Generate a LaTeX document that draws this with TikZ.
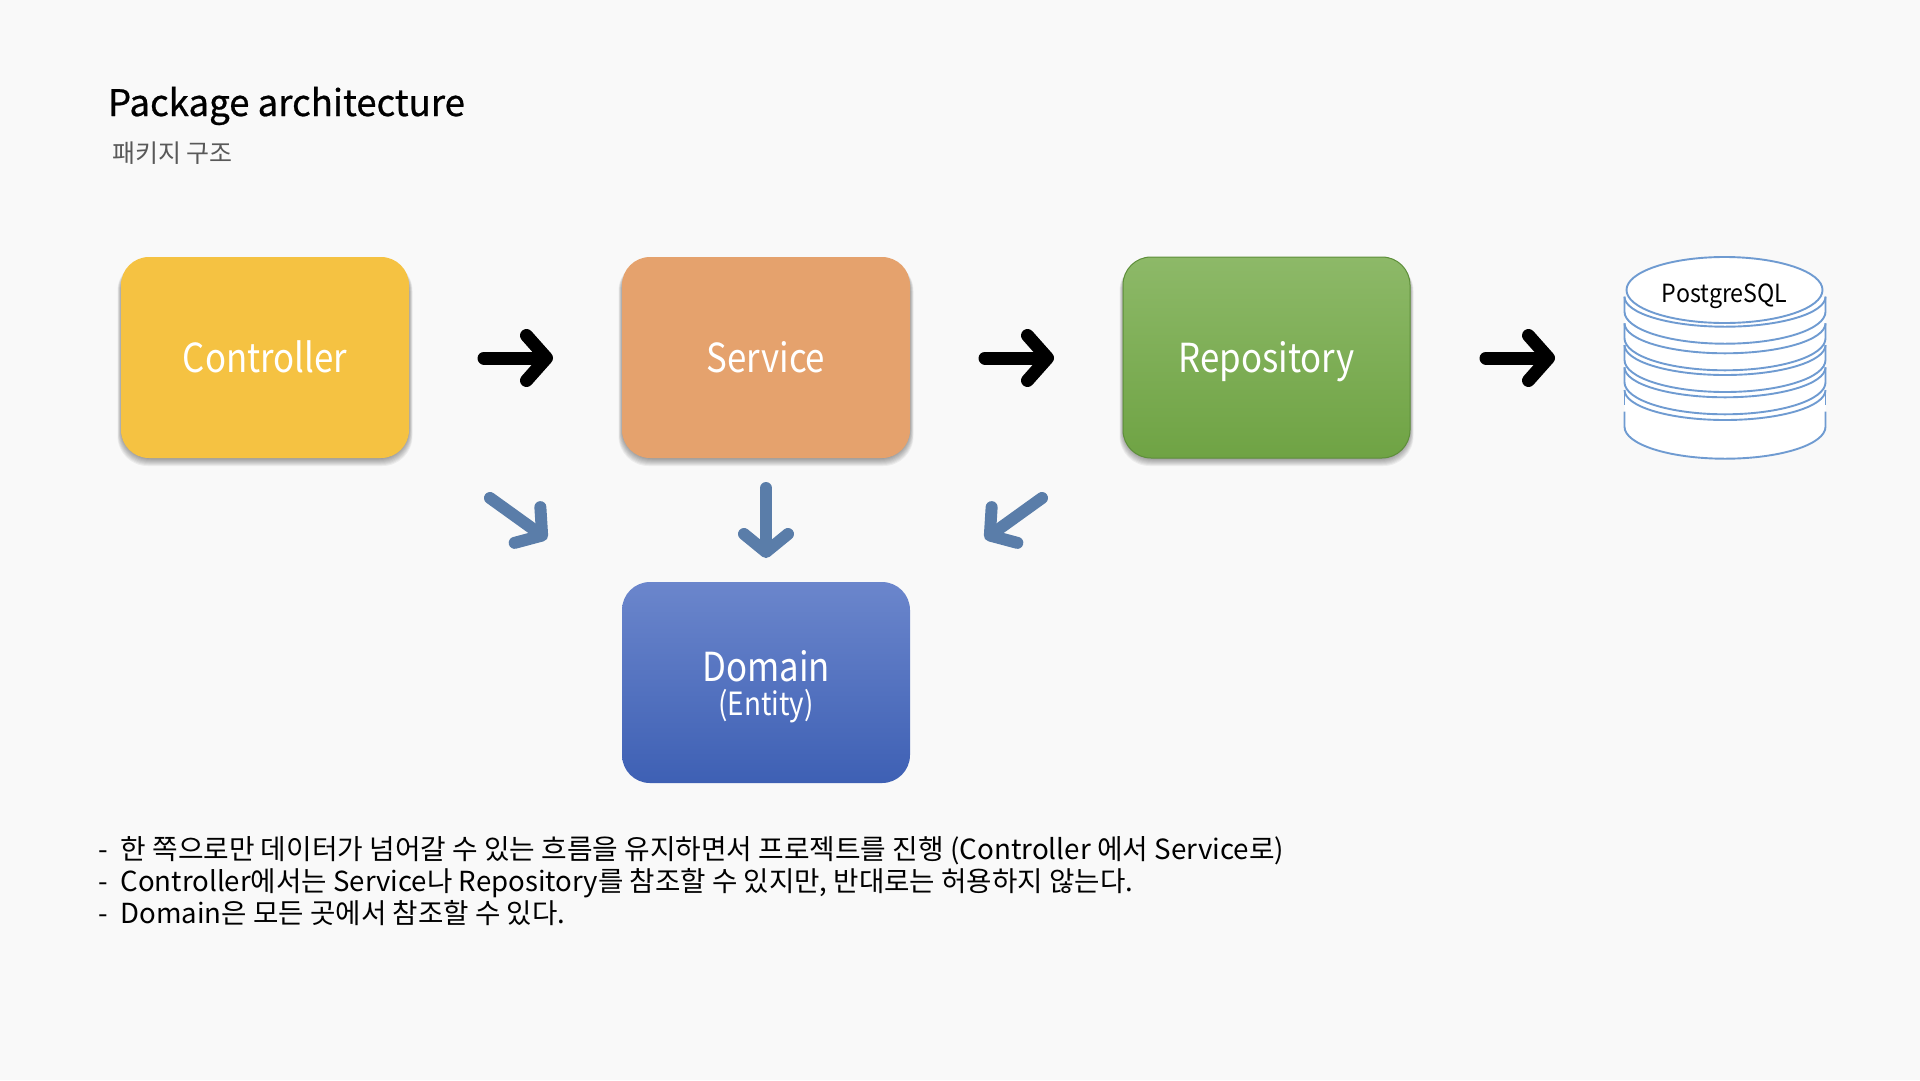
\documentclass[tikz,border=0pt]{standalone}
\usepackage{fontspec}
\setmainfont{Noto Sans CJK KR}
\newfontfamily\narrowfont[FakeStretch=0.87]{Noto Sans CJK KR}
\newfontfamily\pgfontn[FakeStretch=0.93]{Noto Sans CJK KR}
\newfontfamily\titlefont[FakeBold=0.7]{Noto Sans CJK KR}
\usetikzlibrary{arrows.meta}
\definecolor{bgc}{HTML}{F9F9F9}
\definecolor{ctrl}{HTML}{F5C242}
\definecolor{serv}{HTML}{E5A26D}
\definecolor{repoT}{HTML}{8DB968}
\definecolor{repoB}{HTML}{6FA344}
\definecolor{repoL}{HTML}{5E8F3A}
\definecolor{domT}{HTML}{6B86CC}
\definecolor{domB}{HTML}{3E60B4}
\definecolor{dbl}{HTML}{6F9BD1}
\definecolor{blueA}{HTML}{5A7DA9}
\definecolor{subg}{HTML}{595959}
\newcommand{\softshadow}[4]{%
  \foreach \gr in {0,1,2,3,4,5,6,7}{%
    \fill[black,opacity=0.05,rounded corners=30pt]
      (#1-3.5+0.5*\gr,#2+4) rectangle (#3+3.5-0.5*\gr,#4+8-\gr);}}
\newcommand{\diskbottom}[1]{\draw[dbline] (1624.5,#1) -- (1624.5,#1+15) arc[start angle=180,end angle=360,x radius=100.5pt,y radius=32pt] -- (1825.5,#1);}
\newcommand{\diskstub}[1]{\draw[dbline] (1624.5,#1) -- (1624.5,#1+15) (1825.5,#1) -- (1825.5,#1+15);}
\newcommand{\disktop}[1]{\draw[dbline] (1624.5,#1) arc[start angle=180,end angle=360,x radius=100.5pt,y radius=30pt];}
\tikzset{
  every node/.style={inner sep=0pt,outer sep=0pt},
  boxbase/.style={rectangle,rounded corners=28pt,minimum width=288pt,minimum height=201pt,text=white,font=\narrowfont\fontsize{40}{44}\selectfont,align=center,text height=29pt,text depth=0pt},
  dbline/.style={draw=dbl,line width=1.9pt},
  fatblack/.style={line width=13pt,line cap=round,black,-{Straight Barb[length=20pt,width=45pt,round]}},
  fatblue/.style={line width=12pt,line cap=round,blueA,-{Straight Barb[length=18pt,width=44pt,round]}},
}
\begin{document}
\begin{tikzpicture}[x=1pt,y=-1pt]
\useasboundingbox (0,0) rectangle (1920,1080);
\fill[bgc] (0,0) rectangle (1920,1080);
% texts
\node[anchor=base west,font=\titlefont\fontsize{36.6}{40}\selectfont] (title) at (108,116) {Package architecture};
\node[anchor=base west,text=subg,font=\fontsize{25}{28}\selectfont] (sub) at (112,162) {패키지 구조};
% shadows
\softshadow{121}{257}{409}{458}
\softshadow{622}{257}{910}{458}
\softshadow{1123}{257}{1410}{458}
% boxes
\node[boxbase,fill=ctrl] (controller) at (265,357.5) {Controller};
\node[boxbase,fill=serv] (service) at (766,357.5) {Service};
\node[boxbase,draw=repoL,line width=1pt,top color=repoT,bottom color=repoB,minimum width=287pt] (repository) at (1266.5,357.5) {Repository};
\node[boxbase,top color=domT,bottom color=domB] (domain) at (766,682.5) {};
\node[text=white,font=\narrowfont\fontsize{40}{44}\selectfont] (domname) at (766,666) {Domain};
\node[text=white,font=\narrowfont\fontsize{32}{36}\selectfont] (entity) at (766,706) {(Entity)};
% database
\fill[white] (1624.5,297) -- (1624.5,427) arc[start angle=180,end angle=360,x radius=100.5pt,y radius=32pt] -- (1825.5,297) -- cycle;
\diskbottom{411.7}
\diskstub{390}
\diskbottom{367.3}
\diskbottom{345}
\diskbottom{323.3}
\diskbottom{296.7}
\disktop{296.7}
\disktop{323.3}
\disktop{345}
\disktop{367.3}
\disktop{390}
\draw[dbline,fill=white] (1724.5,290) ellipse[x radius=98pt,y radius=33pt];
\node[font=\pgfontn\fontsize{25}{28}\selectfont] (pg) at (1724.5,296) {PostgreSQL};
% arrows
\coordinate (a1s) at (484,358); \coordinate (a1t) at (553,358);
\coordinate (a2s) at (985,358); \coordinate (a2t) at (1054,358);
\coordinate (a3s) at (1486,358); \coordinate (a3t) at (1555,358);
\draw[fatblack] (a1s) -- (a1t);
\draw[fatblack] (a2s) -- (a2t);
\draw[fatblack] (a3s) -- (a3t);
\coordinate (d1s) at (490,498); \coordinate (d1t) at (547,539);
\coordinate (d2s) at (766,488); \coordinate (d2t) at (766,558);
\coordinate (d3s) at (1042,498); \coordinate (d3t) at (985,539);
\draw[fatblue] (d1s) -- (d1t);
\draw[fatblue] (d2s) -- (d2t);
\draw[fatblue] (d3s) -- (d3t);
% notes
\node[anchor=base west,font=\fontsize{27.8}{32}\selectfont] (n1) at (98,859) {-\hspace{13pt}한 쪽으로만 데이터가 넘어갈 수 있는 흐름을 유지하면서 프로젝트를 진행 (Controller 에서 Service로)};
\node[anchor=base west,font=\fontsize{27.6}{32}\selectfont] (n2) at (98,891) {-\hspace{13pt}Controller에서는 Service나 Repository를 참조할 수 있지만, 반대로는 허용하지 않는다.};
\node[anchor=base west,font=\fontsize{27.6}{32}\selectfont] (n3) at (98,923) {-\hspace{13pt}Domain은 모든 곳에서 참조할 수 있다.};
\end{tikzpicture}
\end{document}
